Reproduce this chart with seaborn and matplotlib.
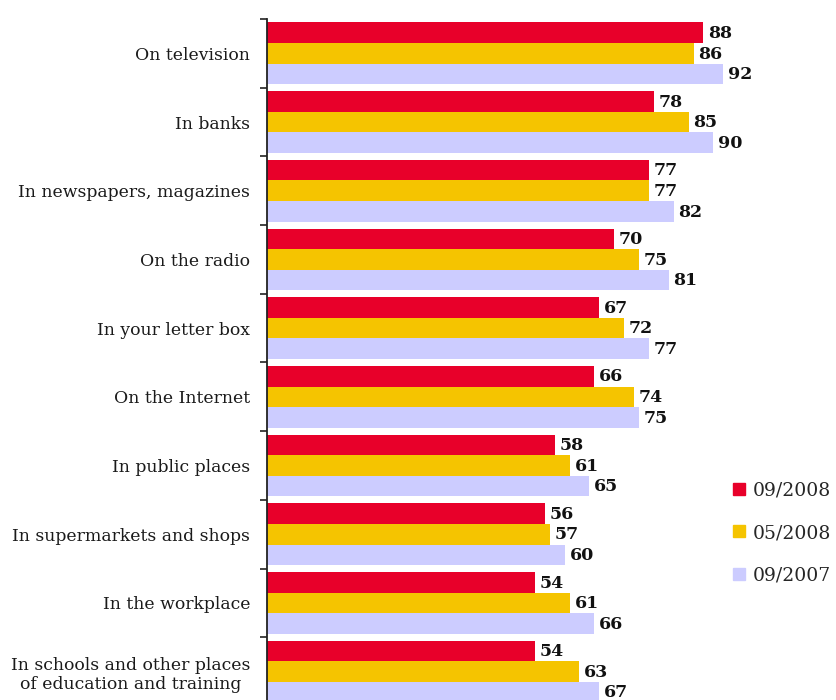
import matplotlib
matplotlib.use("Agg")
import matplotlib.pyplot as plt
import seaborn as sns
import pandas as pd
import numpy as np

categories = [
    "On television",
    "In banks",
    "In newspapers, magazines",
    "On the radio",
    "In your letter box",
    "On the Internet",
    "In public places",
    "In supermarkets and shops",
    "In the workplace",
    "In schools and other places\nof education and training",
]
series_names = ["09/2008", "05/2008", "09/2007"]
values_0908 = [88, 78, 77, 70, 67, 66, 58, 56, 54, 54]
values_0508 = [86, 85, 77, 75, 72, 74, 61, 57, 61, 63]
values_0907 = [92, 90, 82, 81, 77, 75, 65, 60, 66, 67]
colors = ["#E8002A", "#F5C400", "#CCCCFF"]

series_values = [values_0908, values_0508, values_0907]
df = pd.DataFrame({
    "category": categories * 3,
    "series": [s for s in series_names for _ in categories],
    "value": values_0908 + values_0508 + values_0907,
})

sns.set_theme(style="white")
plt.rcParams["font.family"] = ["DejaVu Serif"]

fig = plt.figure(figsize=(8.37, 7.0), dpi=100)
ax = fig.add_axes([267 / 837, -6 / 700, 496 / 837, 687 / 700])

sns.barplot(data=df, y="category", x="value", hue="series", orient="h",
            order=categories, hue_order=series_names, palette=colors,
            width=0.9, saturation=1, linewidth=0, edgecolor="none",
            ax=ax, legend=False)

ax.set_xlim(0, 100)
ax.set_ylim(len(categories) - 0.5, -0.5)
ax.set_xlabel("")
ax.set_ylabel("")
ax.set_xticks([])

# Category labels at group centres, tick marks at group boundaries
ax.set_yticks(np.arange(len(categories)))
ax.set_yticklabels(categories, fontsize=12.4, color="#1a1a1a",
                   ha="right", multialignment="center")
ax.tick_params(axis="y", which="major", length=0, pad=12)
ax.set_yticks(np.arange(len(categories) + 1) - 0.5, minor=True)
ax.tick_params(axis="y", which="minor", length=5, width=1.2,
               color="#222222", direction="out", left=True)

for side in ["top", "right", "bottom"]:
    ax.spines[side].set_visible(False)
ax.spines["left"].set_color("#222222")
ax.spines["left"].set_linewidth(1.3)

# Value labels next to each bar
for container, vals in zip(ax.containers, series_values):
    for patch, v in zip(container.patches, vals):
        y = patch.get_y() + patch.get_height() / 2
        ax.annotate(f"{v}", xy=(patch.get_width(), y), xytext=(3.5, -0.5),
                    textcoords="offset points", ha="left", va="center",
                    fontsize=12.5, fontweight="bold", color="#111111",
                    annotation_clip=False)

handles = [plt.Rectangle((0, 0), 1, 1, color=c) for c in colors]
fig.legend(handles, series_names, loc="center left",
           bbox_to_anchor=(733 / 837, 1 - 533 / 700), frameon=False,
           fontsize=13.5, handlelength=0.62, handleheight=0.62,
           handletextpad=0.45, labelspacing=1.3, borderaxespad=0,
           borderpad=0)

fig.savefig("out.png", dpi=100)
